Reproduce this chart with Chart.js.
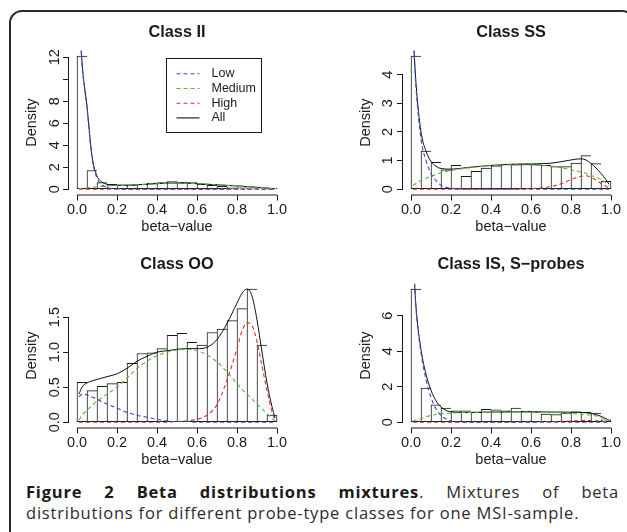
<!DOCTYPE html>
<html lang="en">
<head>
<meta charset="UTF-8">
<title>Beta distributions mixtures</title>
<script src="https://cdn.jsdelivr.net/npm/chart.js@4.4.1/dist/chart.umd.min.js"></script>
<style>
    html, body { margin: 0; padding: 0; background: #fff; }
    body { width: 627px; height: 532px; overflow: hidden; position: relative; }
    .frame {
        position: absolute; left: 9px; top: 10px;
        width: 626px; height: 600px;
        border: 2px solid #2a2a2a; border-radius: 13px;
        box-sizing: border-box;
    }
    canvas { position: absolute; }
    #c1 { left: 10px;  top: 12px; }
    #c2 { left: 344px; top: 12px; }
    #c3 { left: 10px;  top: 245px; }
    #c4 { left: 344px; top: 245px; }
    .caption {
        position: absolute; left: 26px; top: 481px; width: 593px;
        font: 16.5px/21px "Open Sans", sans-serif;
        letter-spacing: 0.8px;
        color: #2b2b2b;
    }
    .caption .l1 { text-align: justify; text-align-last: justify; white-space: nowrap; }
    .caption b { font-weight: 700; color: #1a1a1a; }
</style>
</head>
<body>
<div class="frame"></div>
<canvas id="c1" width="290" height="224"></canvas>
<canvas id="c2" width="283" height="224"></canvas>
<canvas id="c3" width="290" height="224"></canvas>
<canvas id="c4" width="283" height="224"></canvas>
<div class="caption">
    <div class="l1"><b>Figure 2 Beta distributions mixtures</b>. Mixtures of beta</div>
    <div>distributions for different probe-type classes for one MSI-sample.</div>
</div>

<script>
// histogram bins (width 0.05) and the x positions where the fitted curves were read
const binCenters = [0.025, 0.075, 0.125, 0.175, 0.225, 0.275, 0.325, 0.375, 0.425, 0.475,
                    0.525, 0.575, 0.625, 0.675, 0.725, 0.775, 0.825, 0.875, 0.925, 0.975];
const curveX = [0.01, 0.025, 0.05, 0.075, 0.1, 0.125, 0.15, 0.2, 0.25, 0.3, 0.35, 0.4, 0.45, 0.5,
                0.55, 0.6, 0.65, 0.7, 0.75, 0.8, 0.825, 0.85, 0.875, 0.9, 0.925, 0.95, 0.975, 0.99];
const xTicks = [0, 0.2, 0.4, 0.6, 0.8, 1];
const xLabels = ['0.0', '0.2', '0.4', '0.6', '0.8', '1.0'];

const titles = ['Class II', 'Class SS', 'Class OO', 'Class IS, S\u2212probes'];
const seriesNames = ['Low', 'Medium', 'High', 'All'];

// Class II
const histII = [12.1, 1.7, 0.6, 0.45, 0.4, 0.4, 0.45, 0.55, 0.6, 0.7, 0.65, 0.6, 0.45, 0.35, 0.25, 0.2, 0.15, 0.12, 0.1, 0.07];
const lowII = [16.0, 11.4, 7.4, 2.85, 1.0, 0.4, 0.15, 0.03, 0, 0, 0, 0, 0, 0, 0, 0, 0, 0, 0, 0, 0, 0, 0, 0, 0, 0, 0, 0];
const mediumII = [0.05, 0.08, 0.12, 0.17, 0.22, 0.26, 0.3, 0.33, 0.36, 0.4, 0.45, 0.5, 0.55, 0.56, 0.54, 0.5, 0.45, 0.4, 0.35, 0.3, 0.27, 0.24, 0.2, 0.17, 0.13, 0.1, 0.06, 0.03];
const highII = [0, 0, 0, 0, 0, 0, 0, 0, 0, 0, 0, 0, 0, 0, 0, 0, 0, 0, 0.01, 0.01, 0.01, 0.01, 0.01, 0.01, 0.01, 0, 0, 0];
const allII = [16.0, 11.5, 7.5, 3.0, 1.2, 0.65, 0.45, 0.35, 0.35, 0.4, 0.45, 0.5, 0.55, 0.56, 0.54, 0.5, 0.45, 0.4, 0.35, 0.3, 0.27, 0.24, 0.21, 0.17, 0.13, 0.1, 0.06, 0.03];
const yTicksII = [0, 2, 4, 6, 8, 10, 12];
const yLabelsII = ['0', '2', '4', '6', '8', '', '12'];

// Class SS
const histSS = [4.65, 1.33, 0.94, 0.68, 0.83, 0.45, 0.62, 0.74, 0.82, 0.88, 0.86, 0.88, 0.86, 0.83, 0.79, 0.79, 0.91, 1.17, 0.89, 0.27];
const lowSS = [5.4, 3.55, 1.75, 1.0, 0.55, 0.3, 0.14, 0.03, 0.01, 0, 0, 0, 0, 0, 0, 0, 0, 0, 0, 0, 0, 0, 0, 0, 0, 0, 0, 0];
const mediumSS = [0.13, 0.2, 0.3, 0.38, 0.45, 0.51, 0.57, 0.65, 0.71, 0.75, 0.79, 0.82, 0.84, 0.85, 0.85, 0.84, 0.83, 0.8, 0.75, 0.68, 0.64, 0.6, 0.55, 0.48, 0.42, 0.34, 0.22, 0.12];
const highSS = [0, 0, 0, 0, 0, 0, 0, 0, 0, 0, 0, 0, 0, 0, 0.01, 0.02, 0.04, 0.09, 0.19, 0.33, 0.4, 0.45, 0.47, 0.42, 0.32, 0.2, 0.1, 0.04];
const allSS = [5.5, 3.7, 2.0, 1.33, 0.97, 0.8, 0.72, 0.7, 0.73, 0.77, 0.8, 0.83, 0.85, 0.87, 0.88, 0.88, 0.89, 0.91, 0.96, 1.02, 1.05, 1.06, 1.02, 0.9, 0.74, 0.55, 0.33, 0.17];
const yTicksSS = [0, 1, 2, 3, 4];
const yLabelsSS = ['0', '1', '2', '3', '4'];

// Class OO
const histOO = [0.57, 0.45, 0.51, 0.55, 0.57, 0.84, 0.98, 0.99, 1.05, 1.24, 1.27, 1.14, 1.10, 1.28, 1.33, 1.45, 1.62, 1.9, 1.10, 0.1];
const lowOO = [0.36, 0.4, 0.39, 0.36, 0.33, 0.29, 0.26, 0.2, 0.14, 0.1, 0.07, 0.04, 0.02, 0.01, 0.01, 0, 0, 0, 0, 0, 0, 0, 0, 0, 0, 0, 0, 0];
const mediumOO = [0.03, 0.1, 0.17, 0.24, 0.3, 0.35, 0.4, 0.5, 0.63, 0.77, 0.87, 0.95, 1.0, 1.03, 1.04, 1.02, 0.96, 0.86, 0.72, 0.55, 0.47, 0.4, 0.33, 0.26, 0.19, 0.12, 0.06, 0.02];
const highOO = [0, 0, 0, 0, 0, 0, 0, 0, 0, 0, 0, 0, 0, 0.01, 0.02, 0.04, 0.1, 0.25, 0.6, 1.05, 1.3, 1.42, 1.38, 1.15, 0.8, 0.45, 0.15, 0.03];
const allOO = [0.4, 0.5, 0.56, 0.59, 0.61, 0.63, 0.65, 0.69, 0.77, 0.87, 0.94, 1.0, 1.02, 1.04, 1.05, 1.05, 1.07, 1.18, 1.41, 1.7, 1.84, 1.9, 1.8, 1.46, 1.0, 0.56, 0.22, 0.06];
const yTicksOO = [0, 0.5, 1, 1.5];
const yLabelsOO = ['0.0', '0.5', '1.0', '1.5'];

// Class IS, S-probes
const histIS = [7.5, 1.92, 0.98, 0.79, 0.64, 0.64, 0.56, 0.73, 0.7, 0.64, 0.79, 0.62, 0.58, 0.45, 0.43, 0.51, 0.58, 0.55, 0.51, 0.13];
const lowIS = [9.45, 6.4, 3.9, 2.4, 1.4, 0.75, 0.38, 0.07, 0.01, 0, 0, 0, 0, 0, 0, 0, 0, 0, 0, 0, 0, 0, 0, 0, 0, 0, 0, 0];
const mediumIS = [0.05, 0.12, 0.2, 0.3, 0.38, 0.43, 0.47, 0.51, 0.54, 0.55, 0.56, 0.57, 0.57, 0.57, 0.57, 0.56, 0.55, 0.54, 0.52, 0.49, 0.47, 0.45, 0.42, 0.4, 0.35, 0.27, 0.16, 0.08];
const highIS = [0, 0, 0, 0, 0, 0, 0, 0, 0, 0, 0, 0, 0, 0, 0.01, 0.01, 0.02, 0.03, 0.05, 0.07, 0.08, 0.09, 0.1, 0.09, 0.08, 0.06, 0.03, 0.01];
const allIS = [9.5, 6.5, 4.1, 2.7, 1.8, 1.2, 0.85, 0.58, 0.55, 0.55, 0.56, 0.57, 0.57, 0.58, 0.58, 0.58, 0.58, 0.57, 0.57, 0.56, 0.56, 0.55, 0.53, 0.5, 0.43, 0.33, 0.2, 0.1];
const yTicksIS = [0, 2, 4, 6];
const yLabelsIS = ['0', '2', '4', '6'];

const ink = '#1a1a1a';
const seriesColors = ['#3050c8', '#5cb83c', '#e82c2c', '#111111'];
const seriesDash = [[4, 3], [4, 3], [4, 3], []];

Chart.defaults.font.family = '"Liberation Sans", Arial, sans-serif';
Chart.defaults.color = ink;

// R draws its axis lines only from the first to the last tick
const rAxes = {
    id: 'rAxes',
    afterDraw(chart) {
        const {ctx, chartArea: a, scales: {x, y}} = chart;
        const xt = x.ticks, yt = y.ticks;
        ctx.save();
        ctx.strokeStyle = ink;
        ctx.lineWidth = 1;
        ctx.beginPath();
        ctx.moveTo(x.getPixelForValue(xt[0].value), a.bottom + 0.5);
        ctx.lineTo(x.getPixelForValue(xt[xt.length - 1].value), a.bottom + 0.5);
        ctx.moveTo(a.left - 0.5, y.getPixelForValue(yt[0].value));
        ctx.lineTo(a.left - 0.5, y.getPixelForValue(yt[yt.length - 1].value));
        ctx.stroke();
        ctx.restore();
    }
};

// boxed legend, like R's legend()
const boxLegend = {
    id: 'boxLegend',
    afterDatasetsDraw(chart, args, opts) {
        if (!opts.display) return;
        const {ctx, chartArea: a} = chart;
        const left = Math.round(a.left + opts.left) + 0.5;
        const top = Math.round(a.top + opts.top) + 0.5;
        ctx.save();
        ctx.strokeStyle = ink;
        ctx.lineWidth = 1;
        ctx.strokeRect(left, top, opts.width, opts.height);
        ctx.font = '12.5px "Liberation Sans", Arial, sans-serif';
        ctx.textBaseline = 'middle';
        ctx.fillStyle = ink;
        seriesNames.forEach((name, k) => {
            const yy = top + opts.firstRow + k * opts.rowGap;
            ctx.strokeStyle = seriesColors[k];
            ctx.setLineDash(seriesDash[k]);
            ctx.lineWidth = 1.1;
            ctx.beginPath();
            ctx.moveTo(left + 10, yy);
            ctx.lineTo(left + 33, yy);
            ctx.stroke();
            ctx.fillText(name, left + 45, yy);
        });
        ctx.restore();
    }
};

const panels = [
    {id: 'c1', title: titles[0], hist: histII, curves: [lowII, mediumII, highII, allII],
     yTicks: yTicksII, yLabels: yLabelsII, tickPad: 0.4, padRight: 15, row: 0, legend: true},
    {id: 'c2', title: titles[1], hist: histSS, curves: [lowSS, mediumSS, highSS, allSS],
     yTicks: yTicksSS, yLabels: yLabelsSS, tickPad: 4.5, padRight: 8, row: 0},
    {id: 'c3', title: titles[2], hist: histOO, curves: [lowOO, mediumOO, highOO, allOO],
     yTicks: yTicksOO, yLabels: yLabelsOO, tickPad: -1.6, padRight: 15, row: 1},
    {id: 'c4', title: titles[3], hist: histIS, curves: [lowIS, mediumIS, highIS, allIS],
     yTicks: yTicksIS, yLabels: yLabelsIS, tickPad: 4.5, padRight: 8, row: 1}
];

function makeChart(p) {
    const yTop = Math.max(...p.hist);
    const last = binCenters.length - 1;

    const lines = seriesNames.map((name, k) => ({
        type: 'line',
        label: name,
        data: curveX.map((x, i) => ({x: x, y: p.curves[k][i]})),
        borderColor: seriesColors[k],
        borderWidth: k === 3 ? 1 : 1.1,
        borderDash: seriesDash[k],
        pointRadius: 0,
        cubicInterpolationMode: 'monotone',
        order: 1
    }));

    const tickGrid = {display: true, drawOnChartArea: false, drawTicks: true, tickLength: 6, color: ink, offset: false};
    const axisFont = {size: 14.5};

    return new Chart(document.getElementById(p.id), {
        type: 'bar',
        data: {
            datasets: [{
                type: 'bar',
                label: 'hist',
                data: binCenters.map((x, i) => ({x: x, y: p.hist[i]})),
                backgroundColor: '#ffffff',
                borderColor: ink,
                borderWidth: c => ({top: 1, left: 1, bottom: 1, right: c.dataIndex === last ? 1 : 0}),
                borderSkipped: false,
                barPercentage: 1,
                categoryPercentage: 1,
                order: 2
            }, ...lines]
        },
        options: {
            responsive: false,
            animation: false,
            layout: {padding: {left: 0, right: p.padRight, top: 0, bottom: 0}},
            plugins: {
                legend: {display: false},
                tooltip: {enabled: false},
                title: {
                    display: true,
                    text: p.title,
                    fullSize: false,
                    color: ink,
                    font: {size: 16.3, weight: 'bold'},
                    padding: p.row ? {top: 10.1, bottom: 9.1} : {top: 11.1, bottom: 8.1}
                },
                boxLegend: {display: !!p.legend, left: 97, top: 7, width: 95, height: 74, firstRow: 15.3, rowGap: 14.7}
            },
            scales: {
                x: {
                    type: 'linear',
                    min: -0.04,
                    max: 1.04,
                    offset: false,
                    afterBuildTicks: s => { s.ticks = xTicks.map(v => ({value: v})); },
                    afterFit: s => { s.height = 41.5; },
                    ticks: {callback: (v, i) => xLabels[i], font: axisFont, color: ink, padding: 1, autoSkip: false, maxRotation: 0},
                    grid: tickGrid,
                    border: {display: false},
                    title: {display: true, text: 'beta\u2212value', font: axisFont, color: ink, padding: {top: 0, bottom: 0}}
                },
                y: {
                    type: 'linear',
                    min: -0.04 * yTop,
                    max: 1.04 * yTop,
                    afterBuildTicks: s => { s.ticks = p.yTicks.map(v => ({value: v})); },
                    afterFit: s => { s.width = 59; },
                    ticks: {
                        callback: (v, i) => p.yLabels[i],
                        font: axisFont, color: ink,
                        minRotation: 90, maxRotation: 90,
                        crossAlign: 'center',
                        padding: p.tickPad,
                        autoSkip: false
                    },
                    grid: tickGrid,
                    border: {display: false},
                    title: {display: true, text: 'Density', font: axisFont, color: ink, padding: {top: 13.6, bottom: 0}}
                }
            }
        },
        plugins: [rAxes, boxLegend]
    });
}

panels.forEach(makeChart);
</script>
</body>
</html>
